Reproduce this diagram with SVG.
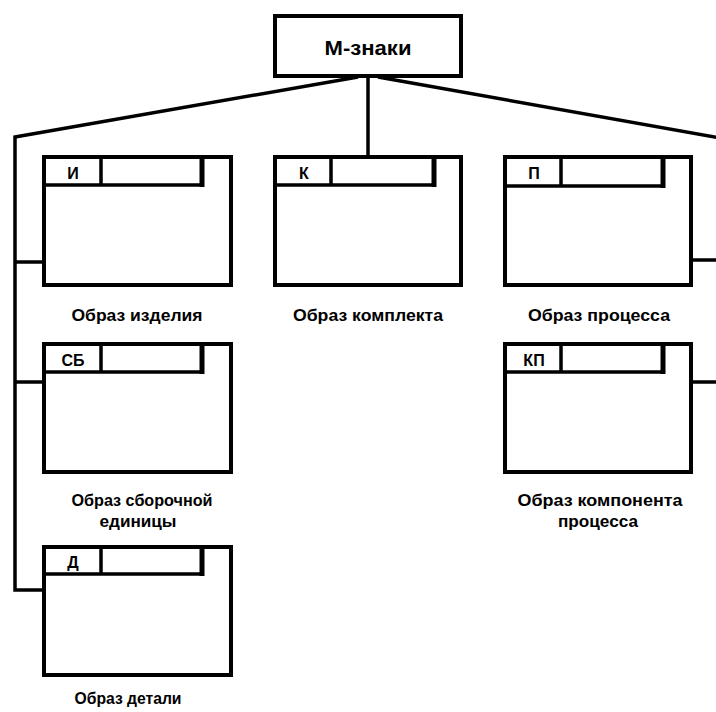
<svg xmlns="http://www.w3.org/2000/svg" width="716" height="712" viewBox="0 0 716 712">
<style>
.frame{fill:#fff;stroke:#000;stroke-width:4}
.hl{fill:none;stroke:#000;stroke-width:3.5}
.hr{fill:none;stroke:#000;stroke-width:5}
.conn{fill:none;stroke:#000;stroke-width:3.5;stroke-linejoin:miter}
.code{font-family:"Liberation Sans",Arial,sans-serif;font-weight:bold;font-size:16px;text-anchor:middle;fill:#000}
.lbl{font-family:"Liberation Sans",Arial,sans-serif;font-weight:bold;font-size:16px;text-anchor:middle;fill:#000}
.title{font-family:"Liberation Sans",Arial,sans-serif;font-weight:bold;font-size:20px;text-anchor:middle;fill:#000}
</style>
<rect width="716" height="712" fill="#fff"/>
<g id="connectors">
<path class="conn" d="M368 76 V157"/>
<path class="conn" d="M358 77 L15 137 V590 H44 M15 262 H44 M15 382 H44"/>
<path class="conn" d="M378 77 L720 138 M691 260 H720 M691 382 H720"/>
</g>
<g id="m-znaki">
<rect class="frame" x="275" y="16" width="186" height="60"/>
<text class="title" x="368" y="55" textLength="87" lengthAdjust="spacingAndGlyphs">М-знаки</text>
</g>
<g id="izdelie">
<rect class="frame" x="44" y="157" width="187" height="128"/>
<path class="hl" d="M44 185 H202 M101 157 V185"/>
<path class="hr" d="M202 157 V187"/>
<text class="code" x="73" y="179">И</text>
<text class="lbl" x="137" y="321" textLength="131" lengthAdjust="spacingAndGlyphs">Образ изделия</text>
</g>
<g id="komplekt">
<rect class="frame" x="275" y="157" width="186" height="128"/>
<path class="hl" d="M275 185 H434 M331 157 V185"/>
<path class="hr" d="M434 157 V187"/>
<text class="code" x="304" y="179">К</text>
<text class="lbl" x="368" y="321" textLength="150" lengthAdjust="spacingAndGlyphs">Образ комплекта</text>
</g>
<g id="process">
<rect class="frame" x="505" y="157" width="186" height="128"/>
<path class="hl" d="M505 186 H663 M561 157 V186"/>
<path class="hr" d="M663 157 V188"/>
<text class="code" x="534" y="179">П</text>
<text class="lbl" x="599" y="321" textLength="142" lengthAdjust="spacingAndGlyphs">Образ процесса</text>
</g>
<g id="sborochnaya">
<rect class="frame" x="44" y="344" width="187" height="128"/>
<path class="hl" d="M44 372 H202 M101 344 V372"/>
<path class="hr" d="M202 344 V374"/>
<text class="code" x="73" y="366">СБ</text>
<text class="lbl" x="142" y="506" textLength="141" lengthAdjust="spacingAndGlyphs">Образ сборочной</text>
<text class="lbl" x="138" y="527" textLength="77" lengthAdjust="spacingAndGlyphs">единицы</text>
</g>
<g id="komponent">
<rect class="frame" x="505" y="344" width="186" height="128"/>
<path class="hl" d="M505 372 H663 M561 344 V372"/>
<path class="hr" d="M663 344 V374"/>
<text class="code" x="534" y="366">КП</text>
<text class="lbl" x="600" y="506" textLength="165" lengthAdjust="spacingAndGlyphs">Образ компонента</text>
<text class="lbl" x="598" y="527" textLength="80" lengthAdjust="spacingAndGlyphs">процесса</text>
</g>
<g id="detal">
<rect class="frame" x="44" y="547" width="187" height="128"/>
<path class="hl" d="M44 574 H202 M101 547 V574"/>
<path class="hr" d="M202 547 V576"/>
<text class="code" x="73" y="568">Д</text>
<text class="lbl" x="128" y="704" textLength="107" lengthAdjust="spacingAndGlyphs">Образ детали</text>
</g>
</svg>
